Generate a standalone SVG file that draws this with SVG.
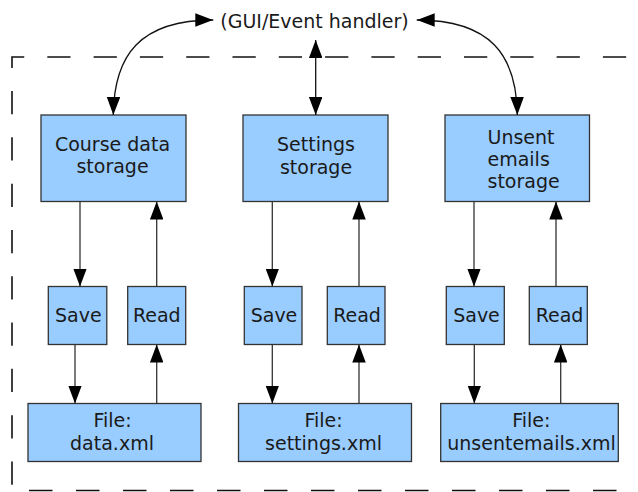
<svg xmlns="http://www.w3.org/2000/svg" width="638" height="492" viewBox="0 0 638 492">
<defs>
<style>
.box{fill:#99ccff;stroke:#333333;stroke-width:1.3}
.t{font-family:"DejaVu Sans","Liberation Sans",sans-serif;font-size:19px;fill:#1a1a1a;text-anchor:middle}
.ts{text-anchor:start}
.c{fill:none;stroke:#333333;stroke-width:1.3;marker-end:url(#arr)}
.cc{fill:none;stroke:#111111;stroke-width:1.3;marker-end:url(#arr);marker-start:url(#arr)}
.border{fill:none;stroke:#111111;stroke-width:1.6}
</style>
<marker id="arr" viewBox="0 0 18 13.5" refX="18" refY="6.75" markerWidth="18" markerHeight="13.5" markerUnits="userSpaceOnUse" orient="auto-start-reverse">
<path d="M0,0 L18,6.75 L0,13.5 Z" fill="#000000"/>
</marker>
</defs>
<rect width="638" height="492" fill="#ffffff"/>
<g id="boundary">
<path class="border" d="M12,490 V57 H640" stroke-dasharray="23.25 23.05" stroke-dashoffset="41"/>
<path class="border" d="M12,490.5 H640" stroke-width="2" stroke-dasharray="23.5 23.5" stroke-dashoffset="30"/>
</g>
<g id="gui">
<text class="t" x="314.5" y="28">(GUI/Event handler)</text>
</g>
<g id="course">
<rect class="box" x="41" y="115" width="145" height="86.5"/>
<text class="t" x="112.5" y="150.5">Course data</text>
<text class="t" x="112.5" y="173">storage</text>
</g>
<g id="settings">
<rect class="box" x="243" y="115" width="145" height="86.5"/>
<text class="t" x="316" y="151">Settings</text>
<text class="t" x="316" y="173.5">storage</text>
</g>
<g id="unsent">
<rect class="box" x="445" y="115" width="144.5" height="86.5"/>
<text class="t ts" x="487.5" y="143.5">Unsent</text>
<text class="t ts" x="487.5" y="165.7">emails</text>
<text class="t ts" x="487.5" y="188">storage</text>
</g>
<g id="save1"><rect class="box" x="48.3" y="286.5" width="58.5" height="58"/><text class="t" x="78.3" y="321.5">Save</text></g>
<g id="read1"><rect class="box" x="127.7" y="286.5" width="58" height="58"/><text class="t" x="156.8" y="321.5">Read</text></g>
<g id="save2"><rect class="box" x="244.3" y="286.5" width="57.7" height="58"/><text class="t" x="274" y="321.5">Save</text></g>
<g id="read2"><rect class="box" x="327.3" y="286.5" width="57.7" height="58"/><text class="t" x="357" y="321.5">Read</text></g>
<g id="save3"><rect class="box" x="446.3" y="286.5" width="58" height="58"/><text class="t" x="476.5" y="321.5">Save</text></g>
<g id="read3"><rect class="box" x="529.3" y="286.5" width="58" height="58"/><text class="t" x="559.5" y="321.5">Read</text></g>
<g id="file1"><rect class="box" x="28" y="403.5" width="173" height="58"/><text class="t" x="112.5" y="427.3">File:</text><text class="t" x="112" y="450">data.xml</text></g>
<g id="file2"><rect class="box" x="238.5" y="403.5" width="173" height="58"/><text class="t" x="323.5" y="427.3">File:</text><text class="t" x="323.5" y="450">settings.xml</text></g>
<g id="file3"><rect class="box" x="440.7" y="403.5" width="177.6" height="58"/><text class="t" x="531.3" y="427.3">File:</text><text class="t" x="531.5" y="450">unsentemails.xml</text></g>
<g id="connectors">
<path class="cc" d="M113.3,115 C114,55 140,20 213.3,20"/>
<path class="cc" d="M517.3,115 C516.6,55 490.6,20 416.7,20"/>
<path class="cc" d="M315.7,40 V115"/>
<path class="c" d="M80,201.5 V286.5"/>
<path class="c" d="M156.7,286.5 V201.5"/>
<path class="c" d="M75,344.5 V403.5"/>
<path class="c" d="M156.7,403.5 V344.5"/>
<path class="c" d="M272.3,201.5 V286.5"/>
<path class="c" d="M359,286.5 V201.5"/>
<path class="c" d="M272.3,344.5 V403.5"/>
<path class="c" d="M359,403.5 V344.5"/>
<path class="c" d="M474,201.5 V286.5"/>
<path class="c" d="M556,286.5 V201.5"/>
<path class="c" d="M474.3,344.5 V403.5"/>
<path class="c" d="M560.7,403.5 V344.5"/>
</g>
</svg>
